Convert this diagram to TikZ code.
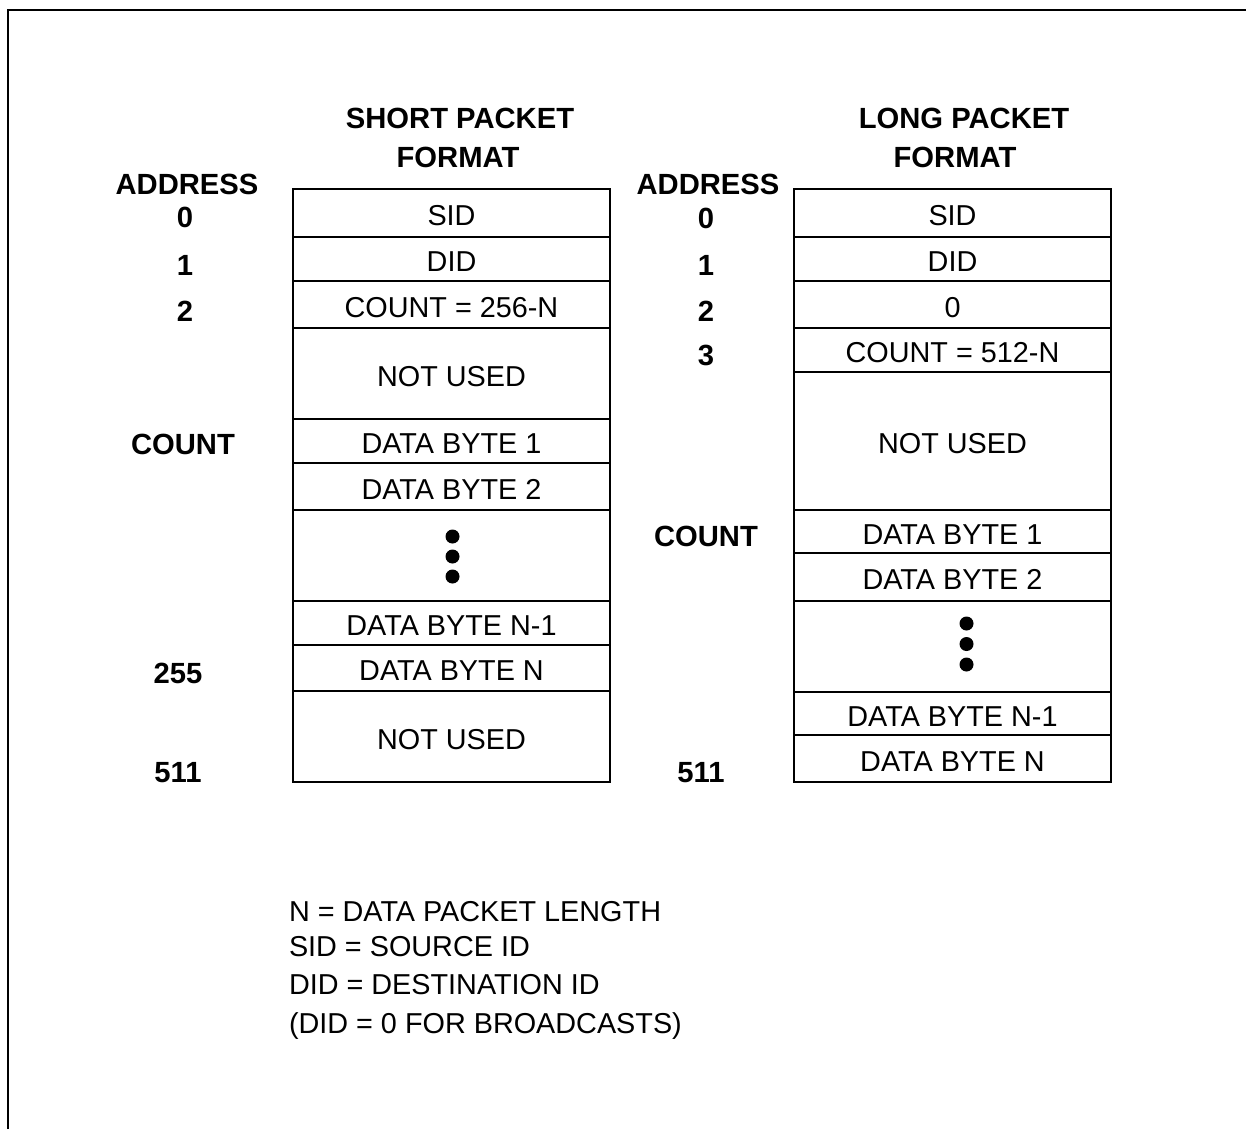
\documentclass[tikz,border=0pt]{standalone}
\usepackage{fontspec}
\setmainfont{Liberation Sans}
\begin{document}
\begin{tikzpicture}[x=1pt,y=-1pt,
  every node/.style={font=\fontsize{28.8}{34}\selectfont, inner sep=0pt, outer sep=0pt},
  cell/.style={draw, line width=1.2pt, minimum width=317pt, anchor=center, text height=25.2pt, text depth=0pt},
  lbl/.style={font=\fontsize{29.2}{34}\selectfont\bfseries, anchor=center},
  legend/.style={anchor=base west},
  dotmark/.style={circle, fill=black, minimum size=14pt}]
\useasboundingbox (0,0) rectangle (1246,1129);
% frame (only top and left visible)
\coordinate (fbl) at (8,1129);
\coordinate (ftl) at (8,10);
\coordinate (ftr) at (1246,10);
\draw[line width=2.8pt] (fbl) -- (ftl) -- (ftr);

% headings
\node[lbl] (h1a) at (460,118) {SHORT PACKET};
\node[lbl] (h1b) at (458,157) {FORMAT};
\node[lbl] (h2a) at (964,118) {LONG PACKET};
\node[lbl] (h2b) at (955,157) {FORMAT};

% short packet cells
\node[cell, minimum height=48pt] (s0) at (451.5,213) {SID};
\node[cell, minimum height=44pt] (s1) at (451.5,259) {DID};
\node[cell, minimum height=47pt] (s2) at (451.5,304.5) {COUNT = 256-N};
\node[cell, minimum height=91pt] (s3) at (451.5,373.5) {NOT USED};
\node[cell, minimum height=44pt] (s4) at (451.5,441) {DATA BYTE 1};
\node[cell, minimum height=47pt] (s5) at (451.5,486.5) {DATA BYTE 2};
\node[cell, minimum height=91pt] (s6) at (451.5,555.5) {};
\node[cell, minimum height=44pt] (s7) at (451.5,623) {DATA BYTE N-1};
\node[cell, minimum height=46pt] (s8) at (451.5,668) {DATA BYTE N};
\node[cell, minimum height=91pt] (s9) at (451.5,736.5) {NOT USED};
\node[dotmark] (sd1) at (452.5,536.5) {};
\node[dotmark] (sd2) at (452.5,556.5) {};
\node[dotmark] (sd3) at (452.5,576.5) {};

% long packet cells
\node[cell, minimum height=48pt] (l0) at (952.5,213) {SID};
\node[cell, minimum height=44pt] (l1) at (952.5,259) {DID};
\node[cell, minimum height=47pt] (l2) at (952.5,304.5) {0};
\node[cell, minimum height=44pt] (l3) at (952.5,350) {COUNT = 512-N};
\node[cell, minimum height=138pt] (l4) at (952.5,441) {NOT USED};
\node[cell, minimum height=43pt] (l5) at (952.5,531.5) {DATA BYTE 1};
\node[cell, minimum height=48pt] (l6) at (952.5,577) {DATA BYTE 2};
\node[cell, minimum height=91pt] (l7) at (952.5,646.5) {};
\node[cell, minimum height=43pt] (l8) at (952.5,713.5) {DATA BYTE N-1};
\node[cell, minimum height=47pt] (l9) at (952.5,758.5) {DATA BYTE N};
\node[dotmark] (ld1) at (966.5,623.5) {};
\node[dotmark] (ld2) at (966.5,644) {};
\node[dotmark] (ld3) at (966.5,664.5) {};

% short address labels
\node[lbl] (sa) at (187,184) {ADDRESS};
\node[lbl] (sa0) at (185,217) {0};
\node[lbl] (sa1) at (185,265) {1};
\node[lbl] (sa2) at (185,311) {2};
\node[lbl] (sac) at (183,444) {COUNT};
\node[lbl] (sa255) at (178,673) {255};
\node[lbl] (sa511) at (178,773) {511};

% long address labels
\node[lbl] (la) at (708,184) {ADDRESS};
\node[lbl] (la0) at (706,218) {0};
\node[lbl] (la1) at (706,265) {1};
\node[lbl] (la2) at (706,311) {2};
\node[lbl] (la3) at (706,355) {3};
\node[lbl] (lac) at (706,536) {COUNT};
\node[lbl] (la511) at (701,773) {511};

% legend
\node[legend] (g1) at (289,921) {N = DATA PACKET LENGTH};
\node[legend] (g2) at (289,956.5) {SID = SOURCE ID};
\node[legend] (g3) at (289,994.5) {DID = DESTINATION ID};
\node[legend] (g4) at (289,1033) {(DID = 0 FOR BROADCASTS)};
\end{tikzpicture}
\end{document}
